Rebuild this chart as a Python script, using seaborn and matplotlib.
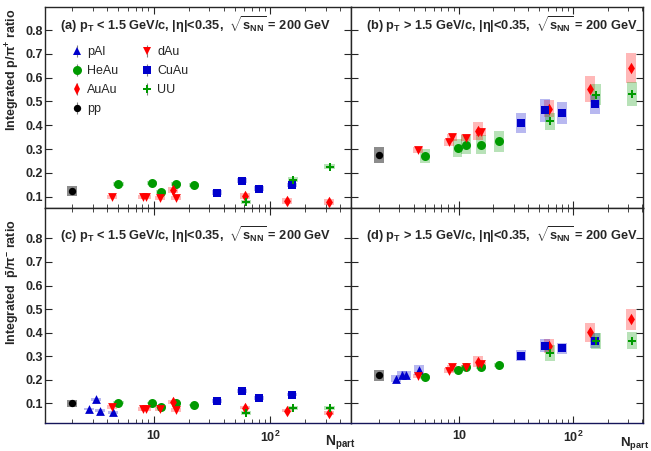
import numpy as np
import matplotlib
matplotlib.use("Agg")
import matplotlib.pyplot as plt
import seaborn as sns
from matplotlib.patches import Rectangle
from matplotlib.ticker import FixedLocator, FixedFormatter, LogLocator, NullFormatter

# N_part of each collision system
pp_x = [2.0]
pAl_x = [2.8, 3.2, 3.45, 4.5]
dAu_x = [4.4, 8.1, 8.6, 11.4, 15.5]
HeAu_x = [5.0, 9.7, 11.6, 15.7, 22.2]
CuAu_x = [35, 57, 80, 155]
AuAu_x = [14.6, 61, 140, 322]
UU_x = [62, 157, 324]

# ratios per panel: a/b = p/pi+ (pT<1.5, pT>1.5), c/d = pbar/pi- (pT<1.5, pT>1.5)
pp_y = {"a": [0.123], "b": [0.274], "c": [0.100], "d": [0.219]}
pAl_y = {"a": [], "b": [], "c": [0.076, 0.117, 0.069, 0.062], "d": [0.205, 0.222, 0.222, 0.241]}
dAu_y = {"a": [0.099, 0.099, 0.099, 0.096, 0.096], "b": [0.295, 0.328, 0.349, 0.347, 0.370],
         "c": [0.083, 0.077, 0.077, 0.076, 0.072], "d": [0.216, 0.239, 0.253, 0.252, 0.267]}
HeAu_y = {"a": [0.154, 0.158, 0.121, 0.152, 0.149], "b": [0.271, 0.305, 0.319, 0.318, 0.332],
          "c": [0.103, 0.101, 0.086, 0.101, 0.093], "d": [0.213, 0.240, 0.253, 0.253, 0.263]}
CuAu_y = {"a": [0.117, 0.168, 0.133, 0.149], "b": [0.408, 0.463, 0.451, 0.489],
          "c": [0.110, 0.151, 0.123, 0.137], "d": [0.302, 0.345, 0.333, 0.366]}
AuAu_y = {"a": [0.128, 0.103, 0.081, 0.078], "b": [0.376, 0.470, 0.553, 0.639],
          "c": [0.107, 0.082, 0.069, 0.058], "d": [0.277, 0.343, 0.401, 0.456]}
UU_y = {"a": [0.078, 0.172, 0.226], "b": [0.416, 0.529, 0.532],
        "c": [0.059, 0.079, 0.081], "d": [0.315, 0.366, 0.366]}

# systematic uncertainties (box half heights)
pp_sys = {"a": [0.021], "b": [0.034], "c": [0.016], "d": [0.023]}
pAl_sys = {"a": [], "b": [], "c": [0.006, 0.006, 0.006, 0.006], "d": [0.016, 0.016, 0.016, 0.02]}
dAu_sys = {"a": [0.008] * 5, "b": [0.013, 0.016, 0.016, 0.015, 0.015],
           "c": [0.008] * 5, "d": [0.01, 0.011, 0.01, 0.01, 0.01]}
HeAu_sys = {"a": [0.008] * 5, "b": [0.029, 0.037, 0.04, 0.04, 0.044],
            "c": [0.005] * 5, "d": [0.008] * 5}
CuAu_sys = {"a": [0.01] * 4, "b": [0.042, 0.048, 0.045, 0.04],
            "c": [0.008] * 4, "d": [0.023, 0.028, 0.025, 0.032]}
AuAu_sys = {"a": [0.012] * 4, "b": [0.037, 0.035, 0.056, 0.063],
            "c": [0.008] * 4, "d": [0.025, 0.028, 0.039, 0.043]}
UU_sys = {"a": [0.01] * 3, "b": [0.036, 0.043, 0.05],
          "c": [0.008] * 3, "d": [0.034, 0.034, 0.036]}

y_ticks = [0.1, 0.2, 0.3, 0.4, 0.5, 0.6, 0.7, 0.8]
y_labels = ["0.1", "0.2", "0.3", "0.4", "0.5", "0.6", "0.7", "0.8"]

RED, GREEN, BLUE = "#ff0000", "#009a00", "#0000cc"
systems = [
    ("pAl", pAl_x, pAl_y, pAl_sys, "^", BLUE, 40),
    ("HeAu", HeAu_x, HeAu_y, HeAu_sys, "o", GREEN, 42),
    ("AuAu", AuAu_x, AuAu_y, AuAu_sys, "d", RED, 34),
    ("pp", pp_x, pp_y, pp_sys, "o", "black", 28),
    ("dAu", dAu_x, dAu_y, dAu_sys, "v", RED, 40),
    ("CuAu", CuAu_x, CuAu_y, CuAu_sys, "s", BLUE, 30),
    ("UU", UU_x, UU_y, UU_sys, "P", GREEN, 40),
]

sns.set_style("ticks")
plt.rcParams["font.family"] = ["Liberation Sans", "DejaVu Sans"]
plt.rcParams["mathtext.fontset"] = "custom"
plt.rcParams["mathtext.rm"] = "Liberation Sans:bold"
plt.rcParams["mathtext.bf"] = "Liberation Sans:bold"
plt.rcParams["mathtext.it"] = "Liberation Sans:bold:italic"
plt.rcParams["mathtext.default"] = "bf"

W, H = 651, 451
fig = plt.figure(figsize=(W / 100, H / 100), dpi=100)


def frac(x0, y0, x1, y1):
    return [x0 / W, 1 - y1 / H, (x1 - x0) / W, (y1 - y0) / H]


axes = {
    "a": fig.add_axes(frac(45, 7, 351, 208)),
    "b": fig.add_axes(frac(351, 7, 643, 208)),
    "c": fig.add_axes(frac(45, 208, 351, 423)),
    "d": fig.add_axes(frac(351, 208, 643, 423)),
}
xlims = {"a": (1.17, 495), "c": (1.17, 495), "b": (1.135, 407), "d": (1.135, 407)}
ylims = {"a": (0.0525, 0.897), "b": (0.0525, 0.897), "c": (0.0164, 0.929), "d": (0.0164, 0.929)}
titles = {
    "a": r"(a) $p_{T}$ < 1.5 GeV/c, |η|<0.35,  $\sqrt{s_{NN}}$ = 200 GeV",
    "b": r"(b) $p_{T}$ > 1.5 GeV/c, |η|<0.35,  $\sqrt{s_{NN}}$ = 200 GeV",
    "c": r"(c) $p_{T}$ < 1.5 GeV/c, |η|<0.35,  $\sqrt{s_{NN}}$ = 200 GeV",
    "d": r"(d) $p_{T}$ > 1.5 GeV/c, |η|<0.35,  $\sqrt{s_{NN}}$ = 200 GeV",
}
box_w = 10 ** 0.0435

for key, ax in axes.items():
    for name, xs, ys, sy, mk, col, size in systems:
        yv = ys[key]
        if not yv:
            continue
        bcol = "black" if name == "pp" else col
        balpha = 0.45 if name == "pp" else 0.28
        for xi, yi, si in zip(xs, yv, sy[key]):
            ax.add_patch(Rectangle((xi / box_w, yi - si), xi * box_w - xi / box_w, 2 * si,
                                   facecolor=bcol, alpha=balpha, lw=0, zorder=1))
        sns.scatterplot(x=xs, y=yv, marker=mk, color=col, s=size, linewidth=0, ax=ax, zorder=3)

    ax.set_xscale("log")
    ax.set_xlim(*xlims[key])
    ax.set_ylim(*ylims[key])
    ax.xaxis.set_major_locator(FixedLocator([1, 10, 100]))
    ax.xaxis.set_minor_locator(LogLocator(base=10, subs=np.arange(2, 10)))
    ax.xaxis.set_minor_formatter(NullFormatter())
    ax.yaxis.set_major_locator(FixedLocator(y_ticks))
    ax.tick_params(which="both", direction="in", top=True, right=True, labelsize=9)
    ax.tick_params(axis="x", pad=5)
    ax.tick_params(axis="y", pad=1.5)
    ax.tick_params(which="major", length=5)
    ax.tick_params(which="minor", length=2.8)
    for sp in ax.spines.values():
        sp.set_linewidth(1.0)
    if key in ("c", "d"):
        ax.xaxis.set_major_formatter(FixedFormatter(["", "10", r"$10^{2}$"]))
        ax.spines["bottom"].set_color("#15155a")
    else:
        ax.set_xticklabels([])
    if key in ("a", "c"):
        ax.yaxis.set_major_formatter(FixedFormatter(y_labels))
    else:
        ax.set_yticklabels([])
    for lab in ax.get_xticklabels() + ax.get_yticklabels():
        lab.set_fontweight("bold")
    ty = 0.886 if key in ("a", "b") else 0.851
    ax.text(0.05, ty, titles[key], transform=ax.transAxes, fontsize=9.2,
            fontweight="bold", va="baseline", ha="left")

# legend with statistical error bar proxies
ax = axes["a"]
handles = []
for name, xs, ys, sy, mk, col, size in systems:
    h = ax.errorbar([np.nan], [np.nan], yerr=[0.01], fmt=mk, color=col, ecolor="gray",
                    elinewidth=0.8, capsize=1.5, ms=np.sqrt(size), mew=0, label=name)
    handles.append(h)
ax.legend(handles=handles, ncol=2, loc="upper left", bbox_to_anchor=(0.085, 0.805),
          frameon=False, fontsize=9, handlelength=1.0, handletextpad=0.3,
          labelspacing=0.56, columnspacing=1.8, borderpad=0, borderaxespad=0)

fig.text(13 / W, 1 - 9 / H, r"Integrated p/$\pi^{+}$ ratio", rotation=90,
         ha="center", va="top", fontsize=9, fontweight="bold")
fig.text(13 / W, 1 - 219 / H, r"Integrated  $\bar{p}/\pi^{-}$ ratio", rotation=90,
         ha="center", va="top", fontsize=9, fontweight="bold")
fig.text(325 / W, 1 - 446 / H, r"$N_{part}$", fontsize=10, va="baseline", ha="left")
fig.text(649 / W, 1 - 446 / H, r"$N_{part}$", fontsize=9.5, va="baseline", ha="right")

fig.savefig("out.png", dpi=100)
